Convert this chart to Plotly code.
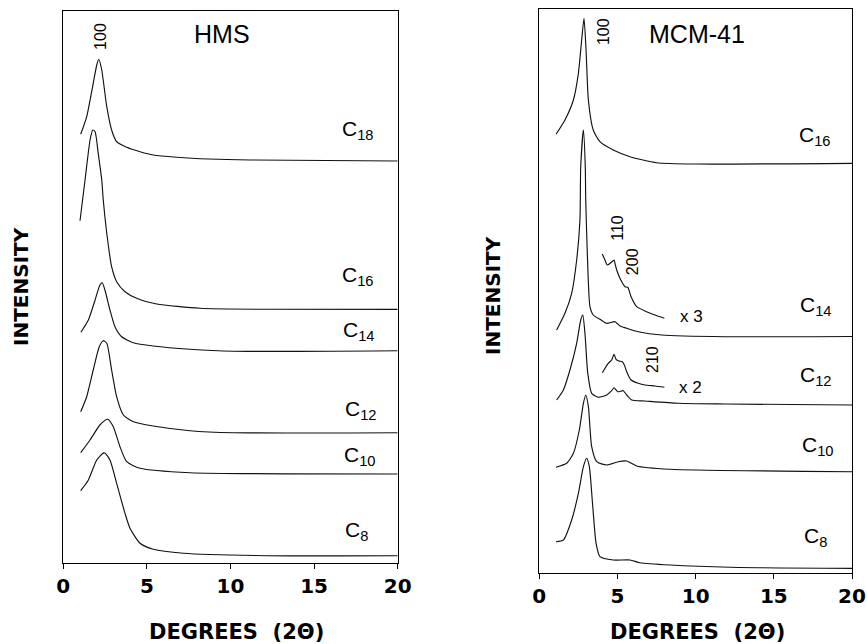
import plotly.graph_objects as go

# ---------------- HMS (left panel) ----------------
hms_c18_x = [1.04, 1.40, 1.79, 2.0, 2.12, 2.30, 2.60, 2.89, 3.19, 3.79, 4.59, 5.38, 6.78, 8.18, 11.17, 20.0]
hms_c18_y = [428.7, 446.3, 479.7, 498, 503.7, 493, 456.3, 433, 421.3, 415.7, 411.3, 408, 405.7, 404.3, 403, 402]
hms_c16_x = [1.0, 1.30, 1.60, 1.76, 1.90, 2.09, 2.30, 2.39, 2.60, 2.89, 3.19, 3.69, 4.39, 5.59, 8.18, 12.17, 20.0]
hms_c16_y = [342.3, 383, 423, 433, 431.3, 409.7, 383, 363, 329.7, 296.3, 281.3, 271.3, 264.7, 259, 254.7, 253.7, 253.7]
hms_c14_x = [1.05, 1.5, 1.9, 2.19, 2.33, 2.49, 2.79, 3.09, 3.49, 4.19, 5.38, 7.58, 10.17, 20.0]
hms_c14_y = [230.7, 243, 263, 278, 280.3, 273, 253, 236.3, 226.3, 220.3, 217, 213.7, 211.7, 212.3]
hms_c12_x = [1.04, 1.4, 1.79, 2.15, 2.39, 2.6, 2.89, 3.19, 3.59, 4.19, 5.38, 7.58, 10.17, 20.0]
hms_c12_y = [151.3, 166.3, 193, 216.3, 222.3, 219.7, 193, 166.3, 148, 141.3, 137, 132.3, 130.3, 130.3]
hms_c10_x = [1.04, 1.6, 2.19, 2.65, 2.99, 3.39, 3.79, 4.59, 7.58, 20.0]
hms_c10_y = [110.3, 123, 138, 143.7, 136.3, 116.3, 101.3, 94.7, 90.3, 89]
hms_c8_x = [1.04, 1.5, 2.0, 2.45, 2.79, 3.19, 3.69, 3.99, 4.59, 5.38, 7.18, 12.17, 20.0]
hms_c8_y = [72.3, 83, 103, 110.3, 103, 79.7, 49.7, 34.7, 19.7, 13.7, 9.7, 7.3, 7.3]

# ---------------- MCM-41 (right panel) ----------------
mcm_c16_x = [1.07, 1.64, 2.18, 2.50, 2.71, 2.86, 2.99, 3.14, 3.45, 3.88, 4.73, 5.80, 7.51, 10.07, 20.0]
mcm_c16_y = [439, 453.3, 473.3, 500, 533.3, 555, 523.3, 473.3, 443.3, 431.6, 423.3, 416.6, 410.6, 409.3, 410]
mcm_c14_x = [1.11, 1.64, 2.07, 2.39, 2.60, 2.65, 2.82, 2.94, 2.97, 3.10, 3.24, 3.45, 3.88, 4.31, 4.84, 5.16, 5.59, 6.33, 7.83, 11.88, 20.0]
mcm_c14_y = [243.3, 260, 280, 313.3, 353.3, 406.6, 443.3, 406.6, 373.3, 306.6, 266.6, 258.3, 254, 250, 251.6, 247.3, 245, 241.6, 238.3, 236.6, 236.8]
mcm_c14x3_x = [4.03, 4.20, 4.35, 4.57, 4.78, 4.84, 4.95, 5.16, 5.48, 5.66, 5.87, 6.23, 6.86, 7.40, 8.0]
mcm_c14x3_y = [319.3, 313.3, 308.3, 310.6, 313.3, 310, 303.3, 295, 286.6, 286, 276.6, 266.6, 261.6, 258.3, 255]
mcm_c12_x = [1.11, 1.54, 1.96, 2.39, 2.65, 2.78, 2.92, 3.10, 3.35, 3.77, 4.31, 4.63, 4.78, 5.02, 5.37, 5.59, 5.91, 6.76, 8.89, 11.88, 20.0]
mcm_c12_y = [173.3, 183.3, 203.3, 230, 253.3, 258.3, 240, 200, 180, 176, 178.3, 182.6, 185.5, 181.6, 182.6, 178.3, 173.3, 172.3, 170, 169.3, 168.3]
mcm_c12x2_x = [4.03, 4.41, 4.63, 4.78, 4.91, 5.10, 5.31, 5.44, 5.59, 5.87, 6.33, 6.76, 7.40, 8.0]
mcm_c12x2_y = [200.6, 210, 213.3, 219, 214, 212.3, 211.6, 208.3, 201.6, 193.3, 190, 188.3, 187.3, 186]
mcm_c10_x = [1.07, 1.75, 2.18, 2.56, 2.82, 2.97, 3.14, 3.35, 3.67, 4.31, 5.05, 5.59, 6.23, 8.36, 20.0]
mcm_c10_y = [106, 110, 120, 143.3, 170, 178.3, 166.6, 126.6, 111.6, 108.3, 111.6, 112.3, 107.3, 104, 101.6]
mcm_c8_x = [1.07, 1.54, 2.07, 2.50, 2.82, 3.03, 3.20, 3.42, 3.63, 3.88, 4.73, 5.80, 6.44, 8.36, 12.2, 20.0]
mcm_c8_y = [31.6, 33.3, 53.3, 80, 106.6, 115, 106.6, 66.6, 30, 16.6, 13.3, 13.3, 10.6, 8.3, 6, 5]

x_ticks = [0, 5, 10, 15, 20]
x_tick_text = ["0", "5", "10", "15", "20"]

# labels: (text, x, y)
hms_labels = [("C<sub>18</sub>", 16.55, 433), ("C<sub>16</sub>", 16.55, 287), ("C<sub>14</sub>", 16.6, 232),
              ("C<sub>12</sub>", 16.7, 153), ("C<sub>10</sub>", 16.65, 107), ("C<sub>8</sub>", 16.7, 32)]
mcm_labels = [("C<sub>16</sub>", 16.46, 437), ("C<sub>14</sub>", 16.55, 267), ("C<sub>12</sub>", 16.55, 197),
              ("C<sub>10</sub>", 16.68, 127), ("C<sub>8</sub>", 16.8, 36)]

fig = go.Figure()
line = dict(color="#111111", width=1.15, shape="spline", smoothing=0.6)

for xs, ys in [(hms_c18_x, hms_c18_y), (hms_c16_x, hms_c16_y), (hms_c14_x, hms_c14_y),
               (hms_c12_x, hms_c12_y), (hms_c10_x, hms_c10_y), (hms_c8_x, hms_c8_y)]:
    fig.add_trace(go.Scatter(x=xs, y=ys, mode="lines", line=line, xaxis="x", yaxis="y",
                             showlegend=False, hoverinfo="skip"))
for xs, ys in [(mcm_c16_x, mcm_c16_y), (mcm_c14_x, mcm_c14_y), (mcm_c14x3_x, mcm_c14x3_y),
               (mcm_c12_x, mcm_c12_y), (mcm_c12x2_x, mcm_c12x2_y), (mcm_c10_x, mcm_c10_y),
               (mcm_c8_x, mcm_c8_y)]:
    fig.add_trace(go.Scatter(x=xs, y=ys, mode="lines", line=line, xaxis="x2", yaxis="y2",
                             showlegend=False, hoverinfo="skip"))

W, H = 867, 644

def px_x(p):
    return p / W

def px_y(p):
    return 1 - p / H

axis_common = dict(showline=True, linecolor="black", linewidth=1.3, mirror=True,
                   showgrid=False, zeroline=False)
xcommon = dict(axis_common, range=[0, 20], tickvals=x_ticks, ticktext=x_tick_text,
               ticks="outside", ticklen=5, tickwidth=1.3, tickcolor="black",
               tickfont=dict(family="DejaVu Sans", size=20, color="black", weight="bold"),
               automargin=False)
ycommon = dict(axis_common, showticklabels=False, ticks="", automargin=False)

fig.update_layout(
    width=W, height=H,
    margin=dict(l=0, r=0, t=0, b=0),
    paper_bgcolor="white", plot_bgcolor="white",
    xaxis=dict(xcommon, domain=[px_x(63.3), px_x(397.7)], anchor="y"),
    yaxis=dict(ycommon, domain=[px_y(563), px_y(10.7)], range=[0, 552.3], anchor="x"),
    xaxis2=dict(xcommon, domain=[px_x(539.3), px_x(852)], anchor="y2"),
    yaxis2=dict(ycommon, domain=[px_y(573.3), px_y(9)], range=[0, 564.3], anchor="x2"),
)

reg = dict(family="Liberation Sans, Arial, sans-serif", color="black")
C = dict(showarrow=False, xanchor="center", yanchor="middle")
ann = []
for txt, x, y in hms_labels:
    ann.append(dict(C, text=txt, x=x, y=y, xref="x", yref="y", xanchor="left", font=dict(reg, size=21)))
for txt, x, y in mcm_labels:
    ann.append(dict(C, text=txt, x=x, y=y, xref="x2", yref="y2", xanchor="left", font=dict(reg, size=21)))
ann += [
    dict(C, text="HMS", x=9.49, y=529, xref="x", yref="y", font=dict(reg, size=25)),
    dict(C, text="MCM-41", x=10.06, y=539.3, xref="x2", yref="y2", font=dict(reg, size=25)),
    dict(C, text="100", x=2.19, y=527, xref="x", yref="y", textangle=-90, font=dict(reg, size=16)),
    dict(C, text="100", x=4.11, y=541.8, xref="x2", yref="y2", textangle=-90, font=dict(reg, size=16)),
    dict(C, text="110", x=4.99, y=345.8, xref="x2", yref="y2", textangle=-90, font=dict(reg, size=16)),
    dict(C, text="200", x=5.92, y=312, xref="x2", yref="y2", textangle=-90, font=dict(reg, size=16)),
    dict(C, text="210", x=7.24, y=213.8, xref="x2", yref="y2", textangle=-90, font=dict(reg, size=16)),
    dict(C, text="x 3", x=9.74, y=257.3, xref="x2", yref="y2", font=dict(reg, size=17)),
    dict(C, text="x 2", x=9.64, y=186, xref="x2", yref="y2", font=dict(reg, size=17)),
]
bold = dict(family="DejaVu Sans", color="black", weight="bold")
ann += [
    dict(C, text="INTENSITY", x=px_x(21), y=px_y(287), xref="paper", yref="paper",
         textangle=-90, font=dict(bold, size=20)),
    dict(C, text="INTENSITY", x=px_x(493), y=px_y(296), xref="paper", yref="paper",
         textangle=-90, font=dict(bold, size=20)),
    dict(C, text="DEGREES\u00a0\u00a0(2\u0398)", x=px_x(236), y=px_y(632), xref="paper", yref="paper",
         font=dict(bold, size=21)),
    dict(C, text="DEGREES\u00a0\u00a0(2\u0398)", x=px_x(697.5), y=px_y(632), xref="paper", yref="paper",
         font=dict(bold, size=21)),
]
fig.update_layout(annotations=ann)

fig.write_html("out.html", config={"displayModeBar": False},
               post_script="document.body.style.margin='0';document.body.style.overflow='hidden';")
